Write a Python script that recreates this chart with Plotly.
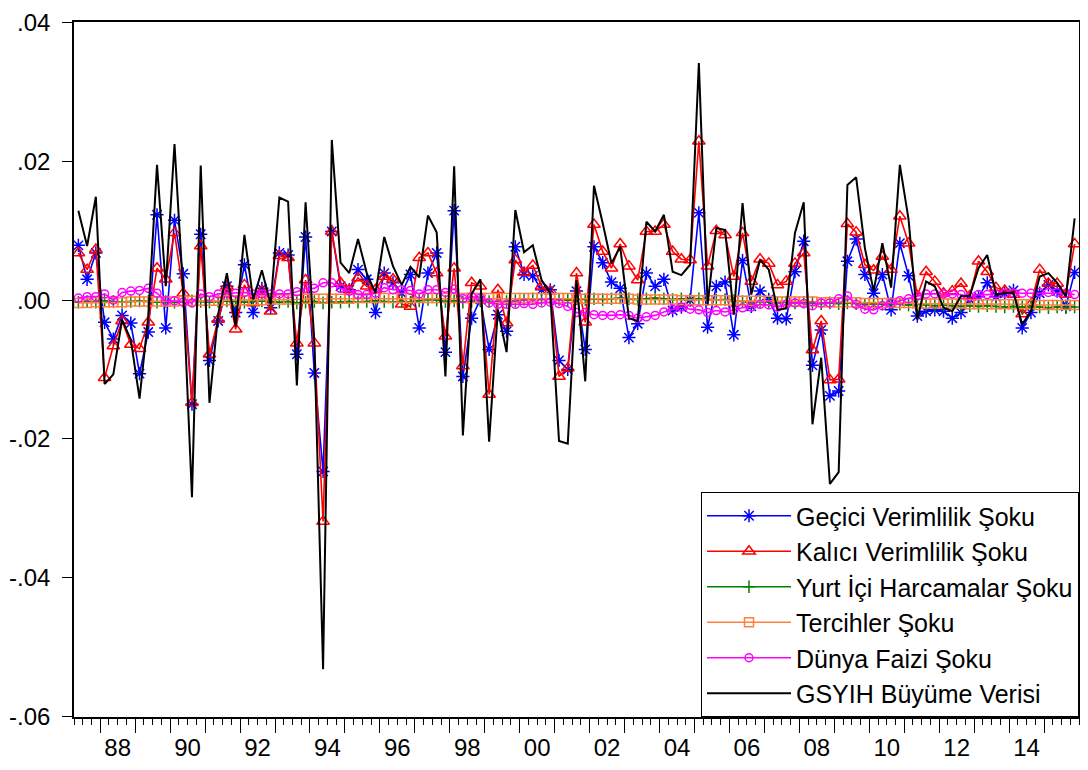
import plotly.graph_objects as go

# ---- data: quarterly, 1987Q2 .. 2015Q4 (115 observations) ----
start_year, start_q, n_obs = 1987, 2, 115
quarters = []
y, q = start_year, start_q
for _ in range(n_obs):
    quarters.append((y, q))
    q += 1
    if q > 4:
        q = 1
        y += 1

gecici = [0.0079, 0.0030, 0.0068, -0.0032, -0.0056, -0.0022, -0.0033, -0.0106, -0.0046, 0.0123,
          -0.0040, 0.0115, 0.0038, -0.0150, 0.0095, -0.0087, -0.0030, 0.0020, -0.0018, 0.0051,
          -0.0018, 0.0017, -0.0011, 0.0068, 0.0065, -0.0078, 0.0091, -0.0105, -0.0247, 0.0099,
          0.0020, 0.0015, 0.0044, 0.0030, -0.0018, 0.0039, 0.0025, 0.0010, 0.0037, -0.0040,
          0.0039, 0.0068, -0.0075, 0.0129, -0.0110, -0.0026, 0.0001, -0.0071, -0.0021, -0.0045,
          0.0077, 0.0037, 0.0035, 0.0015, 0.0015, -0.0087, -0.0100, 0.0013, -0.0071, 0.0077,
          0.0054, 0.0026, 0.0017, -0.0054, -0.0034, 0.0039, 0.0020, 0.0030, -0.0015, -0.0010,
          0.0000, 0.0126, -0.0039, 0.0020, 0.0026, -0.0050, 0.0057, -0.0009, 0.0013, 0.0001,
          -0.0026, -0.0027, 0.0041, 0.0085, -0.0094, -0.0043, -0.0138, -0.0131, 0.0056, 0.0088,
          0.0037, 0.0010, 0.0037, -0.0014, 0.0082, 0.0035, -0.0023, -0.0016, -0.0014, -0.0016,
          -0.0026, -0.0018, 0.0001, 0.0005, 0.0025, 0.0005, 0.0010, 0.0014, -0.0040, -0.0018,
          0.0010, 0.0022, 0.0013, -0.0009, 0.0040]

kalici = [0.0068, 0.0044, 0.0073, -0.0112, -0.0066, -0.0030, -0.0064, -0.0070, -0.0032, 0.0046,
          0.0030, 0.0097, 0.0010, -0.0148, 0.0078, -0.0078, -0.0028, 0.0020, -0.0042, 0.0022,
          -0.0004, 0.0013, -0.0016, 0.0064, 0.0061, -0.0062, 0.0029, -0.0062, -0.0319, 0.0099,
          0.0025, 0.0015, 0.0032, 0.0020, 0.0015, 0.0034, 0.0030, -0.0006, -0.0009, 0.0061,
          0.0068, 0.0039, -0.0052, 0.0046, -0.0095, 0.0025, 0.0020, -0.0136, 0.0015, -0.0033,
          0.0058, 0.0040, 0.0050, 0.0020, 0.0013, -0.0110, -0.0098, 0.0039, -0.0032, 0.0109,
          0.0070, 0.0046, 0.0081, 0.0049, 0.0029, 0.0099, 0.0099, 0.0109, 0.0070, 0.0059,
          0.0058, 0.0229, 0.0049, 0.0100, 0.0094, 0.0034, 0.0097, 0.0027, 0.0059, 0.0053,
          0.0022, 0.0027, 0.0053, 0.0068, -0.0072, -0.0030, -0.0115, -0.0114, 0.0110, 0.0098,
          0.0051, 0.0043, 0.0063, 0.0044, 0.0121, 0.0082, 0.0006, 0.0041, 0.0027, 0.0010,
          0.0013, 0.0024, 0.0006, 0.0056, 0.0041, 0.0018, 0.0014, 0.0008, -0.0020, -0.0006,
          0.0044, 0.0024, 0.0024, 0.0008, 0.0081]

yurtici = [-0.0003, -0.0002, -0.0003, -0.0001, -0.0002, -0.0003, -0.0002, -0.0001, -0.0002, -0.0003,
           -0.0002, -0.0003, -0.0002, -0.0001, -0.0002, -0.0003, -0.0002, -0.0001, -0.0002, -0.0003,
           -0.0002, -0.0001, -0.0002, -0.0003, -0.0002, -0.0004, -0.0003, -0.0002, -0.0004, -0.0003,
           -0.0003, -0.0002, -0.0003, -0.0002, -0.0001, -0.0002, -0.0003, -0.0002, -0.0003, -0.0001,
           0.0001, 0.0000, -0.0002, -0.0001, -0.0003, -0.0002, -0.0001, -0.0002, -0.0003, -0.0002,
           -0.0001, 0.0001, 0.0002, 0.0001, 0.0002, 0.0001, 0.0000, 0.0002, 0.0001, 0.0002,
           0.0001, 0.0002, 0.0003, 0.0002, 0.0001, 0.0002, 0.0003, 0.0002, 0.0001, 0.0002,
           0.0001, 0.0002, 0.0001, 0.0000, 0.0001, -0.0001, -0.0002, -0.0003, -0.0002, -0.0003,
           -0.0004, -0.0003, -0.0004, -0.0003, -0.0004, -0.0005, -0.0004, -0.0005, -0.0004, -0.0005,
           -0.0006, -0.0005, -0.0006, -0.0005, -0.0006, -0.0007, -0.0006, -0.0007, -0.0008, -0.0007,
           -0.0008, -0.0009, -0.0008, -0.0009, -0.0008, -0.0009, -0.0010, -0.0009, -0.0010, -0.0009,
           -0.0010, -0.0011, -0.0010, -0.0011, -0.0010]

tercihler = [-0.0004, -0.0004, -0.0003, -0.0003, -0.0003, -0.0003, -0.0002, -0.0002, -0.0002, -0.0002,
             -0.0002, -0.0002, -0.0001, -0.0001, -0.0001, -0.0001, -0.0001, 0.0000, 0.0000, 0.0000,
             0.0000, 0.0000, 0.0001, 0.0001, 0.0001, 0.0001, 0.0002, 0.0002, 0.0002, 0.0002,
             0.0002, 0.0002, 0.0003, 0.0003, 0.0003, 0.0003, 0.0003, 0.0003, 0.0003, 0.0003,
             0.0003, 0.0003, 0.0003, 0.0003, 0.0003, 0.0003, 0.0003, 0.0003, 0.0003, 0.0003,
             0.0003, 0.0003, 0.0003, 0.0003, 0.0003, 0.0003, 0.0003, 0.0002, 0.0002, 0.0002,
             0.0002, 0.0002, 0.0002, 0.0002, 0.0001, 0.0001, 0.0001, 0.0001, 0.0001, 0.0000,
             0.0000, 0.0000, 0.0000, 0.0000, 0.0000, -0.0001, -0.0001, -0.0001, -0.0001, -0.0001,
             -0.0002, -0.0002, -0.0002, -0.0002, -0.0002, -0.0003, -0.0003, -0.0003, -0.0003, -0.0003,
             -0.0004, -0.0004, -0.0004, -0.0004, -0.0004, -0.0004, -0.0005, -0.0005, -0.0005, -0.0005,
             -0.0005, -0.0005, -0.0006, -0.0006, -0.0006, -0.0006, -0.0006, -0.0006, -0.0006, -0.0006,
             -0.0007, -0.0007, -0.0007, -0.0007, -0.0007]

dunya = [0.0003, 0.0005, 0.0005, 0.0009, 0.0000, 0.0011, 0.0013, 0.0014, 0.0017, 0.0010,
         -0.0001, -0.0001, -0.0003, -0.0004, 0.0009, 0.0005, 0.0009, 0.0010, 0.0010, 0.0011,
         0.0009, 0.0009, 0.0009, 0.0009, 0.0009, 0.0012, 0.0017, 0.0017, 0.0025, 0.0025,
         0.0017, 0.0013, 0.0008, 0.0008, 0.0010, 0.0018, 0.0015, 0.0015, 0.0014, 0.0009,
         0.0015, 0.0015, 0.0011, 0.0016, 0.0002, 0.0005, 0.0003, -0.0004, -0.0006, -0.0006,
         -0.0006, -0.0005, -0.0006, -0.0004, -0.0003, -0.0005, -0.0009, -0.0018, -0.0018, -0.0021,
         -0.0022, -0.0022, -0.0021, -0.0022, -0.0026, -0.0024, -0.0022, -0.0017, -0.0013, -0.0010,
         -0.0013, -0.0014, -0.0018, -0.0015, -0.0017, -0.0014, -0.0011, -0.0010, -0.0006, -0.0007,
         -0.0010, -0.0006, -0.0004, -0.0005, -0.0008, -0.0004, -0.0004, 0.0002, 0.0006, -0.0006,
         -0.0013, -0.0014, -0.0008, -0.0004, -0.0001, 0.0002, 0.0006, 0.0009, 0.0009, 0.0009,
         0.0009, 0.0008, 0.0005, 0.0008, 0.0008, 0.0009, 0.0010, 0.0010, 0.0010, 0.0010,
         0.0011, 0.0011, 0.0011, 0.0010, 0.0008]

gsyih = [0.0129, 0.0078, 0.0149, -0.0121, -0.0107, -0.0028, -0.0057, -0.0142, -0.0023, 0.0195,
         0.0020, 0.0225, 0.0010, -0.0284, 0.0194, -0.0148, -0.0020, 0.0039, -0.0038, 0.0094,
         0.0001, 0.0043, -0.0006, 0.0148, 0.0142, -0.0123, 0.0141, -0.0059, -0.0532, 0.0231,
         0.0054, 0.0039, 0.0088, 0.0039, 0.0010, 0.0091, 0.0049, 0.0022, 0.0048, 0.0033,
         0.0122, 0.0098, -0.0110, 0.0193, -0.0195, 0.0009, 0.0030, -0.0204, -0.0014, -0.0075,
         0.0130, 0.0069, 0.0079, 0.0029, 0.0010, -0.0203, -0.0207, 0.0029, -0.0117, 0.0165,
         0.0111, 0.0053, 0.0077, -0.0026, -0.0030, 0.0113, 0.0099, 0.0123, 0.0041, 0.0036,
         0.0051, 0.0342, -0.0006, 0.0104, 0.0101, -0.0021, 0.0140, 0.0008, 0.0058, 0.0044,
         -0.0014, -0.0012, 0.0097, 0.0141, -0.0179, -0.0083, -0.0265, -0.0248, 0.0166, 0.0177,
         0.0075, 0.0013, 0.0082, 0.0018, 0.0195, 0.0116, -0.0028, 0.0027, 0.0020, -0.0011,
         -0.0016, 0.0006, 0.0006, 0.0046, 0.0065, 0.0008, 0.0010, 0.0011, -0.0035, -0.0016,
         0.0034, 0.0039, 0.0025, 0.0005, 0.0118]

y_ticks = [0.04, 0.02, 0.00, -0.02, -0.04, -0.06]
y_tick_labels = [".04", ".02", ".00", "-.02", "-.04", "-.06"]
label_years = list(range(1988, 2015, 2))
label_texts = [f"{yr % 100:02d}" for yr in label_years]

# x position: centre of each quarter slot
x = [yr + (qq - 1) * 0.25 + 0.125 for yr, qq in quarters]

FONT = "Liberation Sans, Arial, sans-serif"

series = [
    ("Geçici Verimlilik Şoku", gecici, "#0000FF", dict(symbol="asterisk-open", size=11)),
    ("Kalıcı Verimlilik Şoku", kalici, "#FF0000", dict(symbol="triangle-up-open", size=11)),
    ("Yurt İçi Harcamalar Şoku", yurtici, "#008000", dict(symbol="cross-thin-open", size=9)),
    ("Tercihler Şoku", tercihler, "#FF7F3F", dict(symbol="square-open", size=9)),
    ("Dünya Faizi Şoku", dunya, "#FF00FF", dict(symbol="circle-open", size=8)),
]

fig = go.Figure()
for name, vals, col, mk in series:
    fig.add_trace(go.Scatter(
        x=x, y=vals, name=name, mode="lines+markers",
        line=dict(color=col, width=1.6),
        marker=dict(color=col, line=dict(color=col, width=1.5), **mk),
    ))
fig.add_trace(go.Scatter(
    x=x, y=gsyih, name="GSYIH Büyüme Verisi", mode="lines",
    line=dict(color="black", width=2),
))
# dummy trace so the label axis is drawn
fig.add_trace(go.Scatter(x=[label_years[0] + 0.5], y=[0], xaxis="x2", mode="markers",
                         marker=dict(opacity=0), showlegend=False, hoverinfo="skip"))

# page body has an 8px margin, so the figure is sized to fit inside it
x_range = [1987.25, 2016.0]
fig.update_layout(
    width=1072, height=754,
    margin=dict(l=66, r=1, t=14, b=45, autoexpand=False),
    paper_bgcolor="white", plot_bgcolor="white",
    font=dict(family=FONT, color="black"),
    showlegend=True,
    legend=dict(x=1, y=0, xanchor="right", yanchor="bottom",
                bgcolor="white", bordercolor="black", borderwidth=1,
                font=dict(size=25, family=FONT), itemwidth=84,
                tracegroupgap=0),
    xaxis=dict(range=x_range, showgrid=False, zeroline=False, automargin=False,
               showline=True, linecolor="black", linewidth=1.5, mirror=True,
               tickmode="array", tickvals=list(range(1988, 2016)),
               showticklabels=False, ticks="outside", ticklen=14, tickwidth=1.3,
               tickcolor="black",
               minor=dict(tickmode="linear", tick0=1987.25, dtick=0.25,
                          ticks="outside", ticklen=6, tickwidth=1, tickcolor="black",
                          showgrid=False)),
    xaxis2=dict(range=x_range, overlaying="x", anchor="y", side="bottom",
                showgrid=False, zeroline=False, showline=False, automargin=False,
                tickmode="array", tickvals=[yr + 0.5 for yr in label_years],
                ticktext=label_texts, ticks="outside", ticklen=9,
                ticklabeloverflow="allow",
                tickcolor="rgba(0,0,0,0)", tickfont=dict(size=24, family=FONT)),
    yaxis=dict(range=[-0.0601, 0.0401], showgrid=False, zeroline=False, automargin=False,
               showline=True, linecolor="black", linewidth=1.5, mirror=True,
               tickmode="array", tickvals=y_ticks, ticktext=y_tick_labels,
               ticks="outside", ticklen=10, tickcolor="black",
               ticklabeloverflow="allow",
               tickfont=dict(size=24, family=FONT), ticklabelstandoff=7),
)

fig.write_html("out.html")
